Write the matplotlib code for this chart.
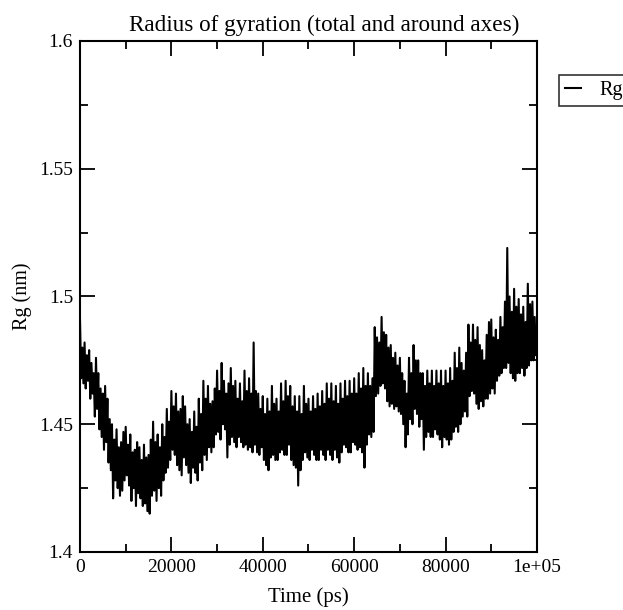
import numpy as np
import matplotlib
matplotlib.use("Agg")
import matplotlib.pyplot as plt
from matplotlib.ticker import MultipleLocator, FuncFormatter

# Rg trace, one value every 250 ps (0 .. 100000 ps)
rg_nm = [
    1.491, 1.468, 1.480, 1.466, 1.482, 1.464, 1.477, 1.467, 1.479, 1.460, 1.474, 1.462, 1.470, 1.453, 1.476, 1.456, 1.470, 1.448, 1.464, 1.445,
    1.462, 1.440, 1.465, 1.443, 1.460, 1.435, 1.452, 1.432, 1.450, 1.421, 1.444, 1.428, 1.448, 1.425, 1.441, 1.422, 1.443, 1.424, 1.447, 1.428,
    1.449, 1.430, 1.442, 1.426, 1.446, 1.420, 1.439, 1.425, 1.440, 1.418, 1.443, 1.423, 1.441, 1.421, 1.436, 1.418, 1.442, 1.419, 1.437, 1.416,
    1.438, 1.415, 1.444, 1.422, 1.451, 1.424, 1.443, 1.420, 1.446, 1.425, 1.441, 1.422, 1.450, 1.428, 1.445, 1.431, 1.456, 1.433, 1.451, 1.436,
    1.463, 1.440, 1.457, 1.438, 1.462, 1.434, 1.455, 1.432, 1.456, 1.430, 1.461, 1.437, 1.457, 1.434, 1.450, 1.431, 1.452, 1.427, 1.447, 1.433,
    1.455, 1.431, 1.449, 1.428, 1.460, 1.435, 1.454, 1.432, 1.467, 1.438, 1.460, 1.436, 1.465, 1.441, 1.458, 1.439, 1.459, 1.441, 1.464, 1.446,
    1.471, 1.447, 1.463, 1.444, 1.474, 1.450, 1.467, 1.448, 1.462, 1.437, 1.466, 1.442, 1.472, 1.445, 1.465, 1.443, 1.467, 1.441, 1.460, 1.445,
    1.466, 1.443, 1.459, 1.441, 1.471, 1.442, 1.463, 1.440, 1.468, 1.441, 1.462, 1.439, 1.482, 1.442, 1.463, 1.439, 1.462, 1.438, 1.456, 1.441,
    1.461, 1.436, 1.454, 1.434, 1.460, 1.432, 1.455, 1.437, 1.465, 1.438, 1.458, 1.436, 1.460, 1.436, 1.455, 1.439, 1.466, 1.440, 1.459, 1.438,
    1.467, 1.438, 1.461, 1.442, 1.465, 1.436, 1.457, 1.434, 1.461, 1.433, 1.455, 1.426, 1.461, 1.432, 1.454, 1.436, 1.465, 1.439, 1.458, 1.437,
    1.460, 1.436, 1.455, 1.440, 1.461, 1.438, 1.456, 1.436, 1.462, 1.436, 1.457, 1.440, 1.463, 1.438, 1.458, 1.436, 1.466, 1.440, 1.460, 1.438,
    1.466, 1.436, 1.459, 1.440, 1.465, 1.437, 1.458, 1.435, 1.466, 1.439, 1.460, 1.442, 1.467, 1.441, 1.461, 1.439, 1.467, 1.439, 1.462, 1.443,
    1.468, 1.442, 1.462, 1.440, 1.470, 1.441, 1.464, 1.439, 1.472, 1.433, 1.465, 1.442, 1.470, 1.446, 1.465, 1.445, 1.468, 1.447, 1.488, 1.461,
    1.484, 1.462, 1.482, 1.465, 1.492, 1.466, 1.486, 1.464, 1.485, 1.459, 1.480, 1.457, 1.481, 1.458, 1.476, 1.456, 1.478, 1.457, 1.473, 1.455,
    1.476, 1.454, 1.470, 1.450, 1.467, 1.441, 1.462, 1.446, 1.476, 1.452, 1.470, 1.450, 1.481, 1.456, 1.475, 1.454, 1.475, 1.449, 1.470, 1.452,
    1.470, 1.440, 1.465, 1.445, 1.471, 1.447, 1.466, 1.445, 1.471, 1.445, 1.465, 1.448, 1.471, 1.446, 1.466, 1.444, 1.471, 1.441, 1.465, 1.445,
    1.471, 1.444, 1.466, 1.442, 1.472, 1.444, 1.467, 1.447, 1.478, 1.449, 1.472, 1.447, 1.480, 1.450, 1.474, 1.453, 1.471, 1.455, 1.478, 1.453,
    1.489, 1.461, 1.482, 1.463, 1.489, 1.462, 1.483, 1.458, 1.488, 1.456, 1.481, 1.459, 1.479, 1.457, 1.475, 1.460, 1.485, 1.460, 1.490, 1.462,
    1.491, 1.464, 1.484, 1.462, 1.487, 1.467, 1.483, 1.469, 1.492, 1.470, 1.488, 1.472, 1.498, 1.472, 1.519, 1.474, 1.500, 1.470, 1.494, 1.468,
    1.503, 1.467, 1.496, 1.470, 1.499, 1.470, 1.493, 1.472, 1.496, 1.469, 1.490, 1.472, 1.505, 1.473, 1.497, 1.475, 1.498, 1.475, 1.492, 1.477,
    1.488,
]
time_ps = np.arange(len(rg_nm)) * 250

title = "Radius of gyration (total and around axes)"
xlabel = "Time (ps)"
ylabel = "Rg (nm)"
legend_label = "Rg"

plt.rcParams['font.family'] = ['Liberation Serif', 'DejaVu Serif']

fig = plt.figure(figsize=(6.23, 6.10), dpi=100)
ax = fig.add_axes([0.1284, 0.0951, 0.7335, 0.8377])

ax.plot(time_ps, rg_nm, color='black', lw=1.5, label=legend_label)

ax.set_xlim(0, 100000)
ax.set_ylim(1.4, 1.6)
ax.xaxis.set_major_locator(MultipleLocator(20000))
ax.xaxis.set_minor_locator(MultipleLocator(10000))
ax.yaxis.set_major_locator(MultipleLocator(0.05))
ax.yaxis.set_minor_locator(MultipleLocator(0.025))
ax.xaxis.set_major_formatter(FuncFormatter(lambda v, p: '%.5g' % v))
ax.yaxis.set_major_formatter(FuncFormatter(lambda v, p: '%g' % round(v, 3)))

ax.tick_params(which='both', direction='in', top=True, right=True, width=1.3, labelsize=14, pad=5)
ax.tick_params(which='major', length=10.5)
ax.tick_params(which='minor', length=5.5)
for s in ax.spines.values():
    s.set_linewidth(1.5)

ax.set_title(title, fontsize=16.7, pad=7, x=0.535)
ax.set_xlabel(xlabel, fontsize=15, labelpad=8)
ax.set_ylabel(ylabel, fontsize=14.5, labelpad=5)

leg = fig.legend(loc='upper left', bbox_to_anchor=(0.897, 0.877), borderaxespad=0, frameon=True,
                 fancybox=False, edgecolor='black', fontsize=14.5, handlelength=0.8, borderpad=0.3,
                 handletextpad=0.9)
leg.get_frame().set_linewidth(1.2)

fig.savefig('out.png', dpi=100)
